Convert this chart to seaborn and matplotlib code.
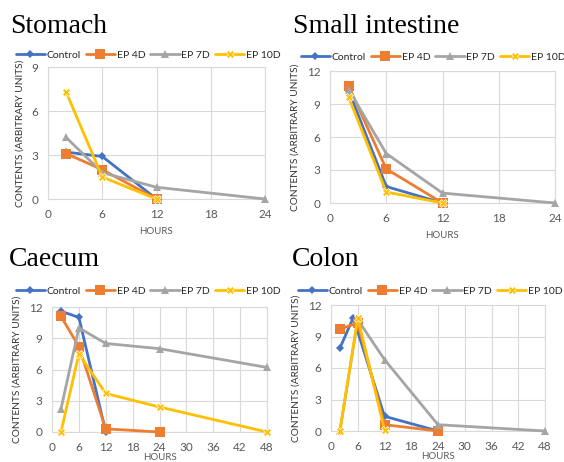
import pandas as pd
import matplotlib
matplotlib.use("Agg")
import matplotlib.pyplot as plt
import seaborn as sns

series = ["Control", "EP 4D", "EP 7D", "EP 10D"]
colors = {"Control": "#4472C4", "EP 4D": "#ED7D31", "EP 7D": "#A5A5A5", "EP 10D": "#FFC000"}
markers = {"Control": "D", "EP 4D": "s", "EP 7D": "^", "EP 10D": "X"}
msizes = {"Control": 4, "EP 4D": 7, "EP 7D": 6, "EP 10D": 6}

# Stomach
stomach_hours = {"Control": [2, 6, 12], "EP 4D": [2, 6, 12], "EP 7D": [2, 6, 12, 24], "EP 10D": [2, 6, 12]}
stomach_vals = {"Control": [3.2, 2.9, 0], "EP 4D": [3.1, 2.0, 0], "EP 7D": [4.2, 1.8, 0.8, 0], "EP 10D": [7.3, 1.5, 0]}

# Small intestine
small_hours = {"Control": [2, 6, 12], "EP 4D": [2, 6, 12], "EP 7D": [2, 6, 12, 24], "EP 10D": [2, 6, 12]}
small_vals = {"Control": [10.2, 1.5, 0], "EP 4D": [10.6, 3.1, 0], "EP 7D": [10.3, 4.5, 0.9, 0], "EP 10D": [9.6, 1.0, 0]}

# Caecum
caecum_hours = {"Control": [2, 6, 12], "EP 4D": [2, 6, 12, 24], "EP 7D": [2, 6, 12, 24, 48], "EP 10D": [2, 6, 12, 24, 48]}
caecum_vals = {"Control": [11.6, 11.0, 0], "EP 4D": [11.1, 8.2, 0.3, 0], "EP 7D": [2.2, 10.0, 8.5, 8.0, 6.2],
               "EP 10D": [0, 7.5, 3.7, 2.4, 0]}

# Colon
colon_hours = {"Control": [2, 5, 12, 24], "EP 4D": [2, 6, 12, 24], "EP 7D": [2, 6, 12, 24, 48], "EP 10D": [2, 6, 12]}
colon_vals = {"Control": [7.9, 10.8, 1.4, 0], "EP 4D": [9.7, 10.3, 0.6, 0], "EP 7D": [0, 10.6, 6.8, 0.6, 0],
              "EP 10D": [0, 10.8, 0.1]}

# title, data, ticks, axes box (l, t, r, b px), title pos, legend centre (px), xlabel pad
panels = [
    ("Stomach", stomach_hours, stomach_vals, [0, 6, 12, 18, 24], [0, 3, 6, 9],
     [48, 67, 265, 199], (10, 33), (148, 55), 5),
    ("Small intestine", small_hours, small_vals, [0, 6, 12, 18, 24], [0, 3, 6, 9, 12],
     [330, 71, 555, 203], (293, 33), (433, 57), 5),
    ("Caecum", caecum_hours, caecum_vals, list(range(0, 49, 6)), [0, 3, 6, 9, 12],
     [52, 307, 267, 432], (9, 266), (148, 291), 0),
    ("Colon", colon_hours, colon_vals, list(range(0, 49, 6)), [0, 3, 6, 9, 12],
     [331, 305, 545, 431], (292, 266), (430, 291), 0),
]

sns.set_theme(style="white")
plt.rcParams["font.family"] = ["Lato", "DejaVu Sans"]

W, H = 564, 462
fig = plt.figure(figsize=(W / 100, H / 100), dpi=100)

for title, hours, vals, xt, yt, box, tpos, lpos, xpad in panels:
    l, t, r, b = box
    ax = fig.add_axes([l / W, (H - b) / H, (r - l) / W, (b - t) / H])
    rows = []
    for s in series:
        for h, v in zip(hours[s], vals[s]):
            rows.append({"hours": h, "value": v, "series": s})
    df = pd.DataFrame(rows)
    for s in series:
        d = df[df["series"] == s]
        sns.lineplot(data=d, x="hours", y="value", color=colors[s], marker=markers[s],
                     markersize=msizes[s], markeredgewidth=0 if s != "EP 10D" else 0.5,
                     linewidth=2, ax=ax, label=s, clip_on=False, sort=False, zorder=3)
    ax.set_xlim(xt[0], xt[-1])
    ax.set_ylim(yt[0], yt[-1])
    ax.set_xticks(xt)
    ax.set_yticks(yt)
    ax.grid(True, color="#D9D9D9", linewidth=0.8)
    for sp in ax.spines.values():
        sp.set_color("#D9D9D9")
        sp.set_linewidth(0.8)
    ax.tick_params(length=0, labelsize=8.5, labelcolor="#595959", pad=7)
    ax.set_xlabel("HOURS", fontsize=7, color="#595959", labelpad=xpad)
    ax.set_ylabel("CONTENTS (ARBITRARY UNITS)", fontsize=7.3, color="#333333", labelpad=5)
    ax.legend(loc="center", bbox_to_anchor=(lpos[0] / W, 1 - lpos[1] / H),
              bbox_transform=fig.transFigure, ncol=4, frameon=False,
              fontsize=7.5, handlelength=2.8, handletextpad=0.15, columnspacing=0.5,
              borderaxespad=0, borderpad=0)
    fig.text(tpos[0] / W, 1 - tpos[1] / H, title, fontsize=20, family="Liberation Serif",
             ha="left", va="baseline", color="black")

fig.savefig("out.png", dpi=100)
